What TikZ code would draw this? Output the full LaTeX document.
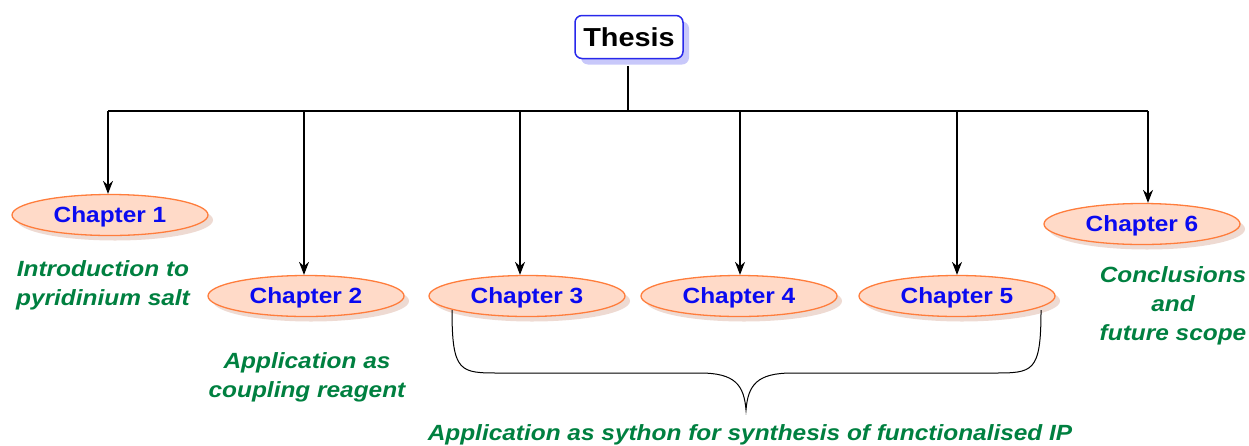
\documentclass[tikz,border=0pt]{standalone}
\usepackage{fontspec}
\setmainfont[FakeStretch=1.11]{Liberation Sans}
\usetikzlibrary{shadows,arrows.meta,shapes.geometric}
\definecolor{chblue}{RGB}{10,10,240}
\definecolor{txgreen}{RGB}{0,128,64}
\definecolor{ellfill}{RGB}{255,218,200}
\definecolor{elldraw}{RGB}{255,125,60}
\definecolor{ellshadow}{RGB}{238,218,210}
\definecolor{thshadow}{RGB}{200,200,250}
\definecolor{thdraw}{RGB}{40,40,235}
\tikzset{
  chap/.style={ellipse, draw=elldraw, fill=ellfill, line width=1.3pt,
    minimum width=196pt, minimum height=41pt, inner sep=0pt, text depth=0pt,
    font=\fontsize{22}{26}\selectfont\bfseries, text=chblue,
    drop shadow={shadow xshift=5pt, shadow yshift=-5pt, fill=ellshadow, opacity=1}},
  desc/.style={align=center, text=txgreen, font=\fontsize{22}{29}\selectfont\bfseries\itshape},
  conn/.style={line width=1.3pt, black},
  arr/.style={conn, -{Stealth[length=13pt,width=10pt]}},
}
\begin{document}
\begin{tikzpicture}[x=1pt,y=-1pt]
\useasboundingbox (0,0) rectangle (1249,445);
\node[draw=thdraw, fill=white, line width=1.5pt, rounded corners=7pt,
  minimum width=108pt, minimum height=43pt, inner sep=0pt, text depth=0pt,
  font=\fontsize{26}{30}\selectfont\bfseries,
  drop shadow={shadow xshift=6pt, shadow yshift=-6pt, fill=thshadow, opacity=1}]
  (thesis) at (629,37) {Thesis};
\coordinate (j) at (628,111);
\coordinate (jt) at (628,66);
\coordinate (h1) at (108,111);
\coordinate (h6) at (1148,111);
\draw[conn] (jt) -- (j);
\draw[conn] (h1) -- (h6);

\node[chap] (c1) at (110,215) {Chapter 1};
\node[chap] (c2) at (306,296) {Chapter 2};
\node[chap] (c3) at (527,296) {Chapter 3};
\node[chap] (c4) at (739,296) {Chapter 4};
\node[chap] (c5) at (957,296) {Chapter 5};
\node[chap] (c6) at (1142,224) {Chapter 6};

\coordinate (a1) at (108,111);
\coordinate (a2) at (304,111);
\coordinate (a3) at (520,111);
\coordinate (a4) at (740,111);
\coordinate (a5) at (957,111);
\coordinate (a6) at (1148,111);
\draw[arr] (a1) -- (a1 |- c1.north);
\draw[arr] (a2) -- (a2 |- c2.north);
\draw[arr] (a3) -- (a3 |- c3.north);
\draw[arr] (a4) -- (a4 |- c4.north);
\draw[arr] (a5) -- (a5 |- c5.north);
\draw[arr] (a6) -- (a6 |- c6.north);

\node[desc] (d1) at (103,285) {Introduction to\\pyridinium salt};
\node[desc] (d2) at (307,377) {Application as\\coupling reagent};
\node[desc] (d6) at (1173,306) {Conclusions\\and\\future scope};

\coordinate (bl) at (452,310);
\coordinate (br) at (1041,310);
\coordinate (bt) at (746,410);
\draw[line width=1pt] (bl) .. controls (452,373) and (460,373) .. (500,373)
  -- (700,373) .. controls (735,373) and (744,385) .. (bt)
  .. controls (748,385) and (757,373) .. (792,373)
  -- (993,373) .. controls (1033,373) and (1041,373) .. (br);
\node[desc] (d3) at (750,435) {Application as sython for synthesis of functionalised IP};
\end{tikzpicture}
\end{document}
